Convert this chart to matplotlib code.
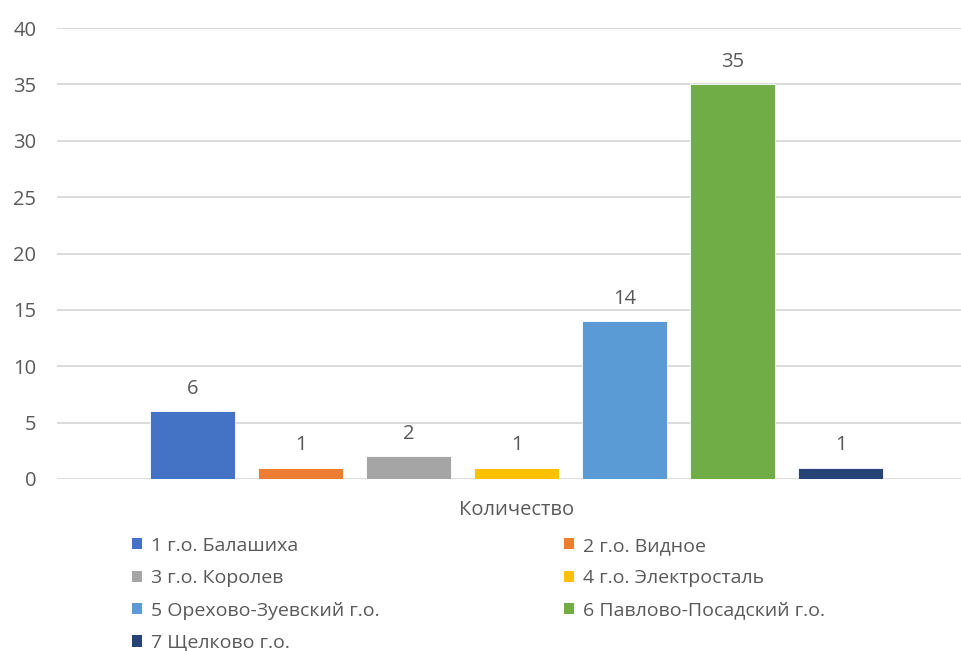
import matplotlib.pyplot as plt
from matplotlib.patches import Patch

# data
category = "Количество"
series_names = [
    "1 г.о. Балашиха",
    "2 г.о. Видное",
    "3 г.о. Королев",
    "4 г.о. Электросталь",
    "5 Орехово-Зуевский г.о.",
    "6 Павлово-Посадский г.о.",
    "7 Щелково г.о.",
]
values = [6, 1, 2, 1, 14, 35, 1]
colors = ["#4472C4", "#ED7D31", "#A5A5A5", "#FFC000", "#5B9BD5", "#70AD47", "#264478"]

plt.rcParams['font.family'] = ['Open Sans', 'DejaVu Sans']
text_color = "#595959"
grid_color = "#D9D9D9"
fs = 14.5

fig = plt.figure(figsize=(9.62, 6.51), dpi=100)
ax = fig.add_axes([57 / 962, 1 - 479 / 651, 1 - 57 / 962, (479 - 28) / 651])

x = list(range(len(values)))
bars = ax.bar(x, values, width=85 / 108, color=colors, edgecolor="white", linewidth=0.6, zorder=3)
ax.bar_label(bars, labels=[str(v) for v in values], padding=9, fontsize=fs, color=text_color)

ax.set_ylim(0, 40)
ax.set_yticks(range(0, 41, 5))
ax.set_xlim((57 - 192.5) / 108, (962 - 192.5) / 108)
ax.set_xticks([3])
ax.set_xticklabels([category])
ax.tick_params(axis='x', length=0, pad=15, labelsize=fs, labelcolor=text_color)
ax.tick_params(axis='y', length=0, pad=15, labelsize=fs, labelcolor=text_color)
ax.grid(axis='y', color=grid_color, linewidth=1.3, zorder=0)
for s in ax.spines.values():
    s.set_visible(False)

handles = [Patch(facecolor=c) for c in colors]
left = [0, 2, 4, 6]
right = [1, 3, 5]
leg_kw = dict(frameon=False, fontsize=14, labelcolor=text_color, handlelength=0.5,
              handleheight=0.5, handletextpad=0.5, labelspacing=0.74, borderaxespad=0)
fig.legend([handles[i] for i in left], [series_names[i] for i in left],
           loc='upper left', bbox_to_anchor=(124 / 962, 1 - 529 / 651), **leg_kw)
fig.legend([handles[i] for i in right], [series_names[i] for i in right],
           loc='upper left', bbox_to_anchor=(556 / 962, 1 - 529 / 651), **leg_kw)

fig.savefig("out.png", dpi=100)
